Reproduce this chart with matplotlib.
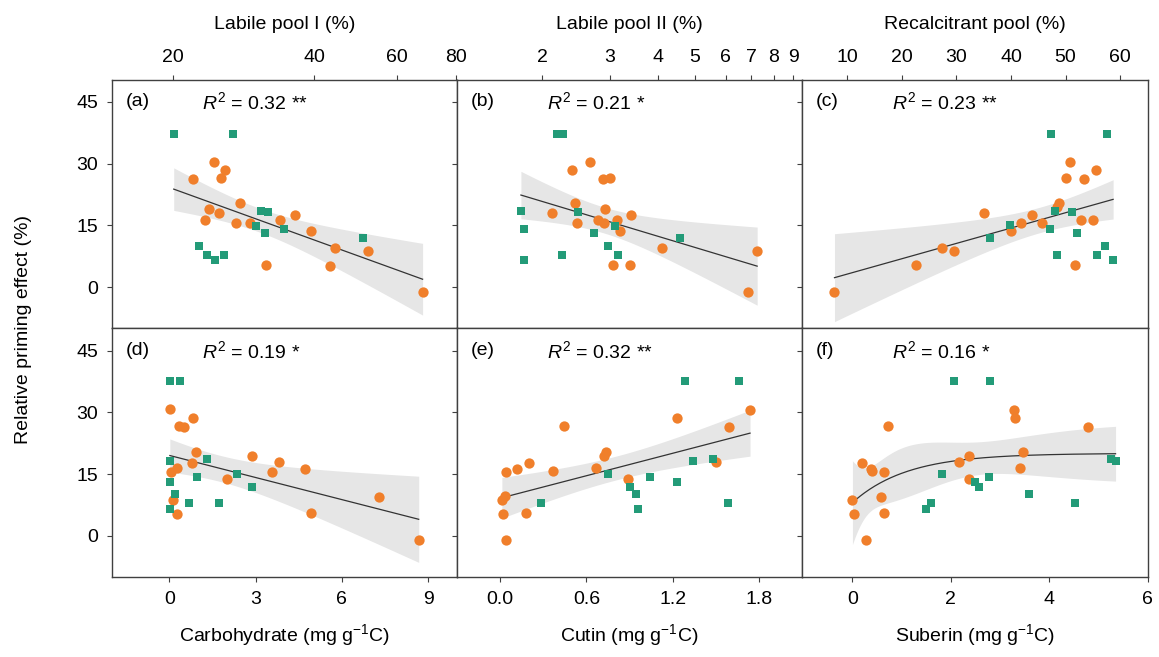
import numpy as np
import matplotlib
matplotlib.use('Agg')
import matplotlib.pyplot as plt
from matplotlib.ticker import FixedLocator, FixedFormatter, NullLocator

plt.rcParams['font.family'] = ['Liberation Sans', 'DejaVu Sans']
plt.rcParams['mathtext.fontset'] = 'custom'
plt.rcParams['mathtext.rm'] = 'Liberation Sans'
plt.rcParams['mathtext.it'] = 'Liberation Sans:italic'
plt.rcParams['font.size'] = 14

ORANGE = '#f07f2b'
GREEN = '#239b78'
EDGE = '#404040'

# ---- data ----
# (a) Labile pool I (%)
a_xo = [22.0, 24.5, 25.76, 25.3, 27.83, 23.8, 25.1, 23.43, 27.19, 29.21, 33.8, 36.43, 39.35, 44.17, 52.04, 43.1, 31.5, 68.0]
a_yo = [26.3, 30.5, 28.4, 26.6, 20.4, 19.1, 18.1, 16.3, 15.5, 15.5, 16.2, 17.6, 13.7, 9.5, 8.7, 5.2, 5.3, -1.1]
a_xg = [20.06, 26.86, 22.67, 23.62, 24.54, 25.64, 30.78, 31.86, 30.04, 31.45, 34.52, 50.7]
a_yg = [37.3, 37.3, 10.1, 7.8, 6.5, 7.8, 18.6, 18.3, 14.9, 13.1, 14.2, 12.0]

# (b) Labile pool II (%)
b_xo = [2.39, 2.67, 2.88, 3.01, 2.12, 2.44, 2.91, 2.46, 2.79, 2.90, 3.13, 3.41, 3.18, 4.09, 7.25, 3.06, 3.39, 6.88]
b_yo = [28.4, 30.5, 26.3, 26.6, 17.9, 20.4, 19.1, 15.7, 16.3, 15.5, 16.3, 17.6, 13.7, 9.5, 8.7, 5.3, 5.3, -1.1]
b_xg = [2.19, 2.27, 1.76, 1.795, 1.79, 2.25, 2.475, 2.735, 2.96, 3.10, 3.14, 4.57]
b_yg = [37.3, 37.3, 18.6, 14.2, 6.5, 7.8, 18.3, 13.1, 10.1, 14.9, 7.8, 12.0]

# (c) Recalcitrant pool (%)
c_xo = [7.7, 22.6, 27.3, 29.6, 35.1, 40.0, 41.8, 43.8, 45.6, 48.8, 48.5, 50.0, 50.8, 53.4, 55.5, 52.8, 55.0, 51.7]
c_yo = [-1.1, 5.3, 9.5, 8.7, 17.9, 13.7, 15.5, 17.6, 15.5, 20.4, 19.4, 26.6, 30.5, 26.3, 28.4, 16.3, 16.3, 5.3]
c_xg = [47.4, 57.5, 48.0, 51.1, 39.9, 36.1, 47.1, 52.0, 57.2, 55.8, 48.5, 58.7]
c_yg = [37.3, 37.3, 18.6, 18.3, 15.0, 12.0, 14.2, 13.1, 10.1, 7.8, 7.8, 6.5]

# (d) Carbohydrate (mg g-1 C)
d_xo = [0.04, 0.81, 0.34, 0.51, 0.92, 0.79, 0.28, 0.07, 2.87, 3.83, 3.57, 4.70, 1.99, 7.29, 0.14, 0.26, 4.93, 8.67]
d_yo = [30.8, 28.6, 26.7, 26.4, 20.4, 17.6, 16.4, 15.6, 19.3, 18.0, 15.5, 16.3, 13.8, 9.5, 8.7, 5.3, 5.5, -1.0]
d_xg = [0.02, 0.38, 0.02, 1.32, 0.02, 0.95, 2.34, 2.88, 0.21, 0.69, 1.74, 0.02]
d_yg = [37.6, 37.6, 18.3, 18.6, 13.1, 14.2, 15.0, 12.0, 10.2, 8.0, 8.0, 6.6]

# (e) Cutin (mg g-1 C)
e_xo = [1.737, 1.232, 0.442, 1.589, 0.737, 0.725, 0.202, 0.118, 0.040, 0.366, 0.667, 1.499, 0.887, 0.035, 0.012, 0.023, 0.183, 0.040]
e_yo = [30.6, 28.6, 26.7, 26.4, 20.5, 19.3, 17.6, 16.3, 15.6, 15.7, 16.4, 18.0, 13.8, 9.7, 8.7, 5.3, 5.5, -1.0]
e_xg = [1.286, 1.659, 0.748, 1.341, 1.483, 1.042, 1.230, 0.901, 0.941, 0.285, 1.584, 0.957]
e_yg = [37.6, 37.6, 15.0, 18.3, 18.8, 14.2, 13.1, 12.0, 10.2, 8.0, 8.0, 6.6]

# (f) Suberin (mg g-1 C)
f_xo = [3.28, 3.31, 0.73, 4.78, 3.47, 2.37, 2.16, 0.19, 0.37, 0.39, 0.64, 3.41, 2.38, 0.58, 0.0, 0.03, 0.64, 0.28]
f_yo = [30.6, 28.6, 26.7, 26.4, 20.4, 19.3, 18.0, 17.6, 16.3, 15.8, 15.6, 16.4, 13.8, 9.5, 8.7, 5.3, 5.5, -1.0]
f_xg = [2.07, 2.80, 5.26, 5.35, 1.83, 2.78, 2.49, 2.57, 3.58, 1.59, 4.53, 1.49]
f_yg = [37.6, 37.6, 18.6, 18.3, 15.0, 14.2, 13.1, 12.0, 10.2, 8.0, 8.0, 6.6]

tags = ['(a)', '(b)', '(c)', '(d)', '(e)', '(f)']
r2_text = ['0.32 **', '0.21 *', '0.23 **', '0.19 *', '0.32 **', '0.16 *']
xlabels = ['Labile pool I (%)', 'Labile pool II (%)', 'Recalcitrant pool (%)',
           'Carbohydrate (mg g$^{-1}$C)', 'Cutin (mg g$^{-1}$C)', 'Suberin (mg g$^{-1}$C)']
xticks = [[20, 40, 60, 80], [2, 3, 4, 5, 6, 7, 8, 9], [10, 20, 30, 40, 50, 60],
          [0, 3, 6, 9], [0.0, 0.6, 1.2, 1.8], [0, 2, 4, 6]]
xticklabels = [['20', '40', '60', '80'], ['2', '3', '4', '5', '6', '7', '8', '9'],
               ['10', '20', '30', '40', '50', '60'], ['0', '3', '6', '9'],
               ['0.0', '0.6', '1.2', '1.8'], ['0', '2', '4', '6']]
xlims = [(14.8, 80.5), (1.2, 9.5), (1.8, 65), (-2, 10), (-0.3, 2.1), (-1.02, 6.0)]
log_x = [True, True, False, False, False, False]
yticks = [0, 15, 30, 45]

points = [(a_xo, a_yo, a_xg, a_yg), (b_xo, b_yo, b_xg, b_yg), (c_xo, c_yo, c_xg, c_yg),
          (d_xo, d_yo, d_xg, d_yg), (e_xo, e_yo, e_xg, e_yg), (f_xo, f_yo, f_xg, f_yg)]

T975 = 2.05  # t quantile, 95 % band


def band_from_jac(J, Js, resid, npar):
    s2 = resid @ resid / (len(resid) - npar)
    cov = s2 * np.linalg.inv(J.T @ J)
    se = np.sqrt(np.einsum('ij,jk,ik->i', Js, cov, Js))
    return T975 * se


def linear_fit(x, y, xs):
    X = np.column_stack([np.ones_like(x), x])
    beta = np.linalg.lstsq(X, y, rcond=None)[0]
    Xs = np.column_stack([np.ones_like(xs), xs])
    yhat = Xs @ beta
    w = band_from_jac(X, Xs, y - X @ beta, 2)
    return yhat, yhat - w, yhat + w


def exp_fit(x, y, xs):
    # y = a + b * exp(-c x), grid search on c
    best = None
    for c in np.linspace(0.2, 8, 800):
        X = np.column_stack([np.ones_like(x), np.exp(-c * x)])
        beta = np.linalg.lstsq(X, y, rcond=None)[0]
        sse = np.sum((y - X @ beta) ** 2)
        if best is None or sse < best[0]:
            best = (sse, c, beta)
    _, c, (a, b) = best
    def jac(xx):
        e = np.exp(-c * xx)
        return np.column_stack([np.ones_like(xx), e, -b * xx * e])
    yhat = a + b * np.exp(-c * xs)
    w = band_from_jac(jac(x), jac(xs), y - (a + b * np.exp(-c * x)), 3)
    return yhat, yhat - w, yhat + w


fig = plt.figure(figsize=(11.59, 6.57), dpi=100)
left, width = 0.0964, 0.2979
bottoms = [0.5008, 0.1222]
height = 0.3780

for i in range(6):
    row, col = divmod(i, 3)
    ax = fig.add_axes([left + col * width, bottoms[row], width, height])
    xo, yo, xg, yg = [np.array(v, dtype=float) for v in points[i]]
    x_all = np.concatenate([xo, xg])
    y_all = np.concatenate([yo, yg])

    xs = np.linspace(x_all.min(), x_all.max(), 200)
    if i == 5:
        yhat, lo, hi = exp_fit(x_all, y_all, xs)
    elif log_x[i]:
        xs = np.logspace(np.log10(x_all.min()), np.log10(x_all.max()), 200)
        yhat, lo, hi = linear_fit(np.log10(x_all), y_all, np.log10(xs))
    else:
        yhat, lo, hi = linear_fit(x_all, y_all, xs)

    ax.fill_between(xs, lo, hi, color='#e6e6e6', lw=0, zorder=1)
    ax.plot(xs, yhat, color='#333333', lw=0.9, zorder=2)
    ax.scatter(xo, yo, s=55, color=ORANGE, marker='o', lw=0, zorder=3)
    ax.scatter(xg, yg, s=32, color=GREEN, marker='s', lw=0, zorder=3)

    if log_x[i]:
        ax.set_xscale('log')
    ax.set_xlim(*xlims[i])
    ax.set_ylim(-9.9, 50.4)
    ax.xaxis.set_major_locator(FixedLocator(xticks[i]))
    ax.xaxis.set_major_formatter(FixedFormatter(xticklabels[i]))
    ax.xaxis.set_minor_locator(NullLocator())
    ax.set_yticks(yticks)

    for sp in ax.spines.values():
        sp.set_color(EDGE)
        sp.set_linewidth(1.0)
    ax.tick_params(direction='out', length=3.6, width=0.8, color=EDGE, labelsize=14)
    ax.tick_params(axis='x', pad=6.5)
    ax.tick_params(axis='y', pad=6)

    if row == 0:
        ax.xaxis.tick_top()
        ax.xaxis.set_label_position('top')
        ax.set_xlabel(xlabels[i], fontsize=14, labelpad=14)
    else:
        ax.set_xlabel(xlabels[i], fontsize=14, labelpad=10)
    if col != 0:
        ax.tick_params(axis='y', labelleft=False)

    ax.text(0.04, 0.91, tags[i], transform=ax.transAxes, fontsize=14, va='center', ha='left')
    ax.text(0.261, 0.91, '$R^2$ = ' + r2_text[i], transform=ax.transAxes, fontsize=14,
            va='center', ha='left')

fig.text(0.02, 0.498, 'Relative priming effect (%)', rotation=90, va='center', ha='center', fontsize=14)

fig.savefig('out.png', dpi=100)
